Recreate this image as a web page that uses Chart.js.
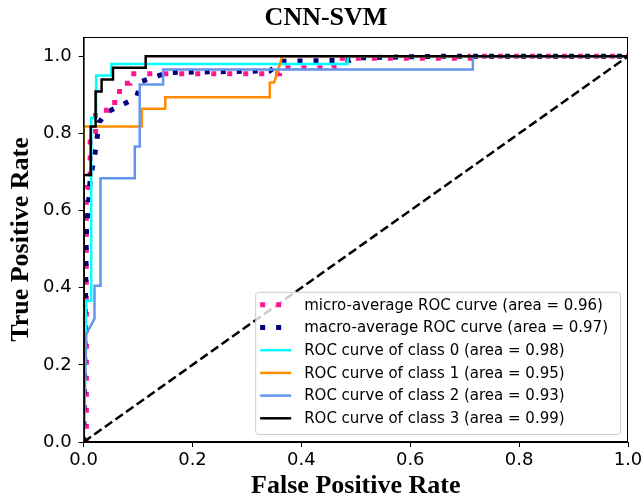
<!DOCTYPE html>
<html>
<head>
<meta charset="utf-8">
<script src="https://cdn.jsdelivr.net/npm/chart.js@4"></script>
<style>
  html, body { margin: 0; padding: 0; background: #fff; }
</style>
</head>
<body>
<canvas id="rocChart" width="644" height="499"></canvas>
<script>
// ROC curves, values
const xTicks = [0, 0.2, 0.4, 0.6, 0.8, 1.0];
const yTicks = [0, 0.2, 0.4, 0.6, 0.8, 1.0];

const microFpr = [0, 0.005, 0.005, 0.012, 0.012, 0.022, 0.022, 0.045, 0.045, 0.066, 0.066, 0.085, 0.085, 0.36, 0.36, 0.46, 0.46, 0.71, 0.71, 1];
const microTpr = [0, 0, 0.66, 0.66, 0.8, 0.8, 0.86, 0.86, 0.88, 0.88, 0.93, 0.93, 0.955, 0.955, 0.97, 0.97, 0.995, 0.995, 1, 1];

const macroFpr = [0, 0.005, 0.012, 0.02, 0.029, 0.044, 0.072, 0.097, 0.106, 0.134, 0.155, 0.342, 0.365, 0.49, 0.5, 0.65, 1];
const macroTpr = [0, 0.54, 0.68, 0.74, 0.83, 0.856, 0.875, 0.893, 0.935, 0.948, 0.958, 0.962, 0.987, 0.99, 0.996, 1, 1];

const class0Fpr = [0, 0.005, 0.014, 0.014, 0.023, 0.023, 0.051, 0.051, 0.485, 0.485, 1];
const class0Tpr = [0, 0.366, 0.366, 0.84, 0.84, 0.95, 0.95, 0.98, 0.98, 1, 1];

const class1Fpr = [0, 0, 0.107, 0.107, 0.15, 0.15, 0.342, 0.342, 0.35, 0.365, 1];
const class1Tpr = [0, 0.818, 0.818, 0.864, 0.864, 0.894, 0.894, 0.932, 0.932, 1, 1];

const class2Fpr = [0, 0.005, 0.02, 0.02, 0.031, 0.031, 0.094, 0.094, 0.103, 0.103, 0.146, 0.146, 0.715, 0.715, 1];
const class2Tpr = [0, 0.28, 0.32, 0.405, 0.405, 0.684, 0.684, 0.766, 0.766, 0.927, 0.927, 0.966, 0.966, 1, 1];

const class3Fpr = [0, 0, 0.013, 0.013, 0.022, 0.022, 0.033, 0.033, 0.054, 0.054, 0.114, 0.114, 1];
const class3Tpr = [0, 0.692, 0.692, 0.818, 0.818, 0.909, 0.909, 0.94, 0.94, 0.97, 0.97, 1, 1];

const chanceFpr = [0, 1];
const chanceTpr = [0, 1];

const labels = [
  "micro-average ROC curve (area = 0.96)",
  "macro-average ROC curve (area = 0.97)",
  "ROC curve of class 0 (area = 0.98)",
  "ROC curve of class 1 (area = 0.95)",
  "ROC curve of class 2 (area = 0.93)",
  "ROC curve of class 3 (area = 0.99)",
];

const toPoints = (xs, ys) => xs.map((x, i) => ({ x: x, y: ys[i] }));

function curve(label, xs, ys, color, width, dash, order) {
  return {
    label: label,
    data: toPoints(xs, ys),
    borderColor: color,
    backgroundColor: color,
    borderWidth: width,
    borderDash: dash,
    borderCapStyle: "butt",
    showLine: true,
    pointRadius: 0,
    tension: 0,
    order: order,
  };
}

const serifBold = { family: "Liberation Serif", size: 26, weight: "bold", lineHeight: 1.0 };
const tickFont = { family: "DejaVu Sans", size: 18, lineHeight: 1.0 };

// frame around the plot + matplotlib-like legend box in the lower right
const framePlugin = {
  id: "frameAndLegend",
  afterDatasetsDraw(chart) {
    const ctx = chart.ctx;
    const a = chart.chartArea;
    ctx.save();
    ctx.strokeStyle = "#000";
    ctx.lineWidth = 1;
    ctx.strokeRect(a.left + 0.5, a.top + 0.5, a.right - a.left - 1, a.bottom - a.top - 1);

    const items = chart.data.datasets.filter((d) => d.label);
    ctx.font = "15px 'DejaVu Sans'";
    let tw = 0;
    items.forEach((d) => { tw = Math.max(tw, ctx.measureText(d.label).width); });
    const rowH = 22.7;
    const w = tw + 61;
    const h = rowH * items.length + 6;
    const right = a.right - 8;
    const bottom = a.bottom - 8;
    const left = right - w;
    const top = bottom - h;

    ctx.fillStyle = "rgba(255,255,255,0.8)";
    ctx.strokeStyle = "#cccccc";
    ctx.beginPath();
    ctx.roundRect(left + 0.5, top + 0.5, w, h, 3);
    ctx.fill();
    ctx.stroke();

    items.forEach((d, i) => {
      const cy = top + 13 + i * rowH;
      ctx.strokeStyle = d.borderColor;
      ctx.lineWidth = d.borderWidth;
      ctx.lineCap = "butt";
      ctx.setLineDash(d.borderDash || []);
      ctx.beginPath();
      ctx.moveTo(left + 5, cy);
      ctx.lineTo(left + 36, cy);
      ctx.stroke();
      ctx.setLineDash([]);
      ctx.fillStyle = "#000";
      ctx.textBaseline = "middle";
      ctx.fillText(d.label, left + 49, cy + 1);
    });
    ctx.restore();
  },
};

const ctx = document.getElementById("rocChart").getContext("2d");
new Chart(ctx, {
  type: "scatter",
  data: {
    datasets: [
      curve(labels[0], microFpr, microTpr, "#ff1493", 5, [5, 11], 6),
      curve(labels[1], macroFpr, macroTpr, "#000080", 5, [5, 11], 5),
      curve(labels[2], class0Fpr, class0Tpr, "#00ffff", 2.5, [], 4),
      curve(labels[3], class1Fpr, class1Tpr, "#ff8c00", 2.5, [], 3),
      curve(labels[4], class2Fpr, class2Tpr, "#6495ed", 2.5, [], 2),
      curve(labels[5], class3Fpr, class3Tpr, "#000000", 2.5, [], 1),
      curve("", chanceFpr, chanceTpr, "#000000", 2.5, [9, 4], 0),
    ],
  },
  options: {
    responsive: false,
    animation: false,
    layout: { padding: { left: 8, right: 0, top: 0, bottom: 0 } },
    plugins: {
      legend: { display: false },
      tooltip: { enabled: false },
      title: {
        display: true,
        text: "CNN-SVM",
        color: "#000",
        font: serifBold,
        padding: { top: 5, bottom: 6 },
      },
    },
    scales: {
      x: {
        type: "linear",
        min: 0,
        max: 1,
        afterBuildTicks: (s) => { s.ticks = xTicks.map((v) => ({ value: v })); },
        afterFit: (s) => { s.paddingRight = 16; },
        ticks: {
          color: "#000",
          padding: 4,
          maxRotation: 0,
          font: tickFont,
          callback: (v) => Number(v).toFixed(1),
        },
        grid: { drawOnChartArea: false, drawTicks: true, tickLength: 5, tickColor: "#000" },
        border: { display: true, color: "#000" },
        title: {
          display: true,
          text: "False Positive Rate",
          color: "#000",
          font: serifBold,
          padding: { top: 0, bottom: 0 },
        },
      },
      y: {
        type: "linear",
        min: 0,
        max: 1.05,
        afterBuildTicks: (s) => { s.ticks = yTicks.map((v) => ({ value: v })); },
        ticks: {
          color: "#000",
          padding: 7,
          font: tickFont,
          callback: (v) => Number(v).toFixed(1),
        },
        grid: { drawOnChartArea: false, drawTicks: true, tickLength: 5, tickColor: "#000" },
        border: { display: true, color: "#000" },
        title: {
          display: true,
          text: "True Positive Rate",
          color: "#000",
          font: serifBold,
          padding: { top: 0, bottom: 2 },
        },
      },
    },
  },
  plugins: [framePlugin],
});
</script>
</body>
</html>
